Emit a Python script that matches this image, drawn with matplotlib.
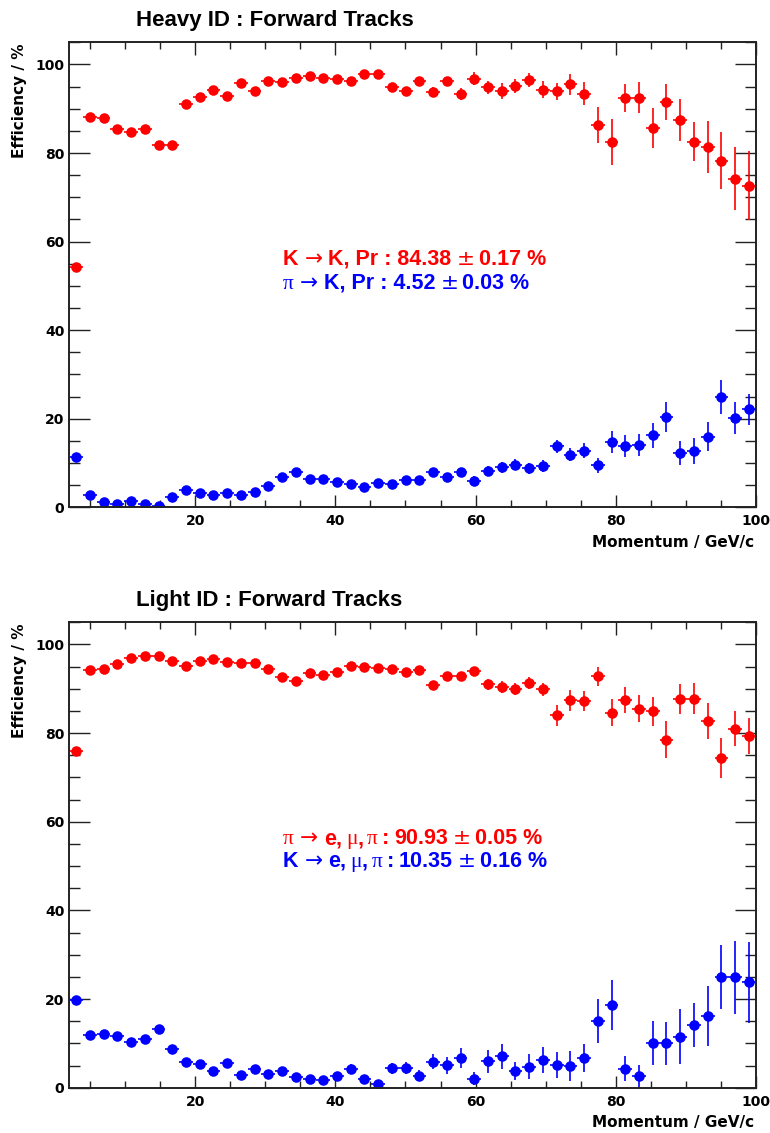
import numpy as np
import matplotlib
matplotlib.use("Agg")
import matplotlib.pyplot as plt
from matplotlib.ticker import MultipleLocator

# ---------------- data ----------------
# 50 momentum bins between 2 and 100 GeV/c
bin_edges = np.linspace(2.0, 100.0, 51)

heavy_k_eff = [54.3, 88.1, 87.8, 85.5, 84.7, 85.4, 81.9, 81.7, 91.0, 92.7,
               94.3, 92.8, 95.7, 93.9, 96.3, 96.1, 97.0, 97.3, 96.9, 96.7,
               96.3, 97.9, 97.9, 94.8, 93.9, 96.3, 93.7, 96.2, 93.3, 96.8,
               94.8, 94.0, 95.1, 96.5, 94.3, 93.9, 95.5, 93.4, 86.4, 82.5,
               92.4, 92.5, 85.6, 91.5, 87.5, 82.5, 81.3, 78.3, 74.2, 72.6]
heavy_k_err = [0.4, 0.5, 0.5, 0.5, 0.5, 0.5, 0.6, 0.6, 0.5, 0.5,
               0.5, 0.6, 0.5, 0.6, 0.5, 0.6, 0.5, 0.5, 0.6, 0.6,
               0.7, 0.6, 0.6, 0.8, 0.9, 0.9, 1.1, 1.0, 1.3, 1.4,
               1.5, 1.7, 1.6, 1.6, 1.9, 2.0, 2.4, 2.6, 4.1, 5.1,
               3.1, 3.5, 4.5, 4.1, 4.8, 4.4, 5.9, 6.4, 7.1, 7.8]
heavy_pi_eff = [11.4, 2.7, 1.2, 0.7, 1.5, 0.7, 0.4, 2.3, 3.9, 3.3,
                2.7, 3.2, 2.7, 3.5, 4.7, 6.8, 8.0, 6.3, 6.5, 5.7,
                5.3, 4.6, 5.5, 5.3, 6.2, 6.1, 8.0, 6.8, 7.9, 6.0,
                8.3, 9.0, 9.6, 8.8, 9.3, 13.8, 11.9, 12.8, 9.5, 14.7,
                13.8, 14.1, 16.3, 20.4, 12.2, 12.7, 15.9, 24.9, 20.1, 22.1]
heavy_pi_err = [0.4, 0.3, 0.2, 0.2, 0.3, 0.2, 0.2, 0.3, 0.4, 0.4,
                0.4, 0.4, 0.4, 0.4, 0.5, 0.6, 0.6, 0.6, 0.6, 0.6,
                0.6, 0.6, 0.7, 0.7, 0.8, 0.8, 0.9, 0.9, 1.0, 1.0,
                1.1, 1.2, 1.2, 1.3, 1.3, 1.5, 1.5, 1.65, 1.65, 2.5,
                2.5, 2.5, 2.8, 3.4, 2.7, 2.9, 3.3, 3.9, 3.6, 3.5]

light_pi_eff = [75.9, 94.2, 94.4, 95.7, 97.0, 97.4, 97.4, 96.2, 95.2, 96.2,
                96.7, 96.1, 95.8, 95.9, 94.5, 92.6, 91.8, 93.5, 93.0, 93.7,
                95.2, 95.0, 94.6, 94.4, 93.8, 94.2, 90.8, 92.9, 92.9, 94.0,
                91.0, 90.3, 90.0, 91.4, 89.9, 84.0, 87.4, 87.3, 92.8, 84.6,
                87.4, 85.5, 84.9, 78.5, 87.7, 87.7, 82.8, 74.3, 81.0, 79.4]
light_pi_err = [0.4, 0.3, 0.3, 0.3, 0.3, 0.3, 0.3, 0.3, 0.3, 0.3,
                0.3, 0.3, 0.3, 0.3, 0.4, 0.4, 0.4, 0.4, 0.4, 0.4,
                0.5, 0.5, 0.5, 0.6, 0.6, 0.7, 0.8, 0.8, 0.9, 0.9,
                1.2, 1.35, 1.35, 1.35, 1.5, 2.4, 2.3, 2.3, 2.2, 3.1,
                2.9, 3.0, 3.3, 4.2, 3.3, 3.5, 4.1, 4.5, 3.9, 4.1]
light_k_eff = [19.8, 11.9, 12.2, 11.7, 10.2, 11.1, 13.2, 8.7, 5.7, 5.3,
               3.8, 5.6, 2.9, 4.2, 3.0, 3.8, 2.5, 1.9, 1.7, 2.6,
               4.3, 1.9, 0.8, 4.4, 4.4, 2.7, 5.9, 5.1, 6.7, 2.0,
               6.0, 7.1, 3.8, 4.7, 6.3, 5.1, 4.9, 6.7, 15.0, 18.6,
               4.3, 2.6, 10.1, 10.0, 11.5, 14.2, 16.2, 24.9, 24.9, 23.8]
light_k_err = [0.5, 0.5, 0.5, 0.5, 0.5, 0.5, 0.6, 0.6, 0.6, 0.6,
               0.6, 0.7, 0.6, 0.7, 0.7, 0.8, 0.7, 0.7, 0.7, 0.8,
               1.0, 0.9, 0.8, 1.2, 1.3, 1.2, 1.7, 1.9, 2.3, 1.5,
               2.6, 2.8, 2.0, 2.8, 2.9, 2.9, 3.4, 3.1, 4.9, 5.6,
               2.9, 2.6, 4.9, 4.8, 6.2, 5.0, 6.7, 7.2, 8.3, 9.1]

titles = ["Heavy ID : Forward Tracks", "Light ID : Forward Tracks"]
y_ticks = [0, 20, 40, 60, 80, 100]
x_ticks = [20, 40, 60, 80, 100]

RED = "#ff0000"
BLUE = "#0000ff"

# ---------------- figure ----------------
W, H = 770, 1133
fig = plt.figure(figsize=(W / 100, H / 100), dpi=100)
fig.patch.set_facecolor("white")

centers = 0.5 * (bin_edges[:-1] + bin_edges[1:])
half_w = 0.5 * np.diff(bin_edges)

def make_axes(top_px, bottom_px):
    left_px, right_px = 69.3, 755.7
    return fig.add_axes([left_px / W, 1 - bottom_px / H,
                         (right_px - left_px) / W, (bottom_px - top_px) / H])

panels = [
    (make_axes(42.3, 507.3), heavy_k_eff, heavy_k_err, heavy_pi_eff, heavy_pi_err),
    (make_axes(622.3, 1087.7), light_pi_eff, light_pi_err, light_k_eff, light_k_err),
]

tick_font = dict(family="DejaVu Sans", weight="bold", size=10)

for ax, ry, re_, by, be in panels:
    ax.set_xlim(2, 100)
    ax.set_ylim(0, 105)
    for yv, ye, col in ((ry, re_, RED), (by, be, BLUE)):
        ax.errorbar(centers, yv, yerr=ye, xerr=half_w, fmt="o", color=col,
                    ms=7.6, mew=0, elinewidth=1.2, capsize=0, ecolor=col)
    ax.xaxis.set_major_locator(MultipleLocator(20))
    ax.xaxis.set_minor_locator(MultipleLocator(5))
    ax.yaxis.set_major_locator(MultipleLocator(20))
    ax.yaxis.set_minor_locator(MultipleLocator(5))
    ax.set_xticks(x_ticks)
    ax.set_yticks(y_ticks)
    ax.tick_params(axis="both", which="both", direction="in", top=True, right=True,
                   color="#222222")
    ax.tick_params(axis="y", which="major", length=15, width=1.0, pad=3.5)
    ax.tick_params(axis="y", which="minor", length=8, width=1.0)
    ax.tick_params(axis="x", which="major", length=9, width=1.0, pad=5)
    ax.tick_params(axis="x", which="minor", length=5, width=1.0)
    for lab in ax.get_xticklabels() + ax.get_yticklabels():
        lab.set_fontfamily(tick_font["family"])
        lab.set_fontweight(tick_font["weight"])
        lab.set_fontsize(tick_font["size"])
    for sp in ax.spines.values():
        sp.set_linewidth(1.4)
        sp.set_color("#222222")

# titles, axis labels
for i, t in enumerate(titles):
    base = [26, 606][i]
    fig.text(136 / W, 1 - base / H, t, ha="left", va="baseline",
             family="Liberation Sans", weight="bold", size=16, color="black")
    top = [42.3, 622.3][i]
    fig.text(20 / W, 1 - (top + 1) / H, "Efficiency / %", rotation=90,
             ha="center", va="top", family="DejaVu Sans", weight="bold", size=11)
    bot = [507.3, 1087.7][i]
    fig.text(754 / W, 1 - (bot + 39.3) / H, "Momentum / GeV/c", ha="right",
             va="baseline", family="DejaVu Sans", weight="bold", size=11)

# rich-text annotations
renderer = fig.canvas.get_renderer()

def rich(x_px, y_px, segs):
    cx = x_px
    for item in segs:
        if isinstance(item, (int, float)):
            cx += item
            continue
        s, props = item
        t = fig.text(cx / W, 1 - y_px / H, s, ha="left", va="baseline", **props)
        bb = t.get_window_extent(renderer)
        cx = bb.x1

def styles(c):
    B = dict(family="Liberation Sans", weight="bold", size=15.5, color=c)
    S = dict(family=["Liberation Serif", "DejaVu Serif"], size=15.5, color=c)
    A = dict(family="DejaVu Sans", size=15.5, color=c)
    return B, S, A

B, S, A = styles(RED)
rich(283, 265, [("K", B), 6, ("\u2192", A), 6, ("K, Pr : 84.38", B), 5,
                ("\u00b1", A), 4, ("0.17 %", B)])
B, S, A = styles(BLUE)
rich(283, 289, [("\u03c0", S), 6, ("\u2192", A), 6, ("K, Pr : 4.52", B), 5,
                ("\u00b1", A), 4, ("0.03 %", B)])
B, S, A = styles(RED)
rich(283, 844, [("\u03c0", S), 6, ("\u2192", A), 6, ("e,", B), 4, ("\u03bc", S),
                (",", B), 4, ("\u03c0", S), 4, (":", B), 5, ("90.93", B), 5,
                ("\u00b1", A), 4, ("0.05 %", B)])
B, S, A = styles(BLUE)
rich(283, 867, [("K", B), 6, ("\u2192", A), 6, ("e,", B), 4, ("\u03bc", S),
                (",", B), 4, ("\u03c0", S), 4, (":", B), 5, ("10.35", B), 5,
                ("\u00b1", A), 4, ("0.16 %", B)])

fig.savefig("out.png", dpi=100, facecolor="white")
